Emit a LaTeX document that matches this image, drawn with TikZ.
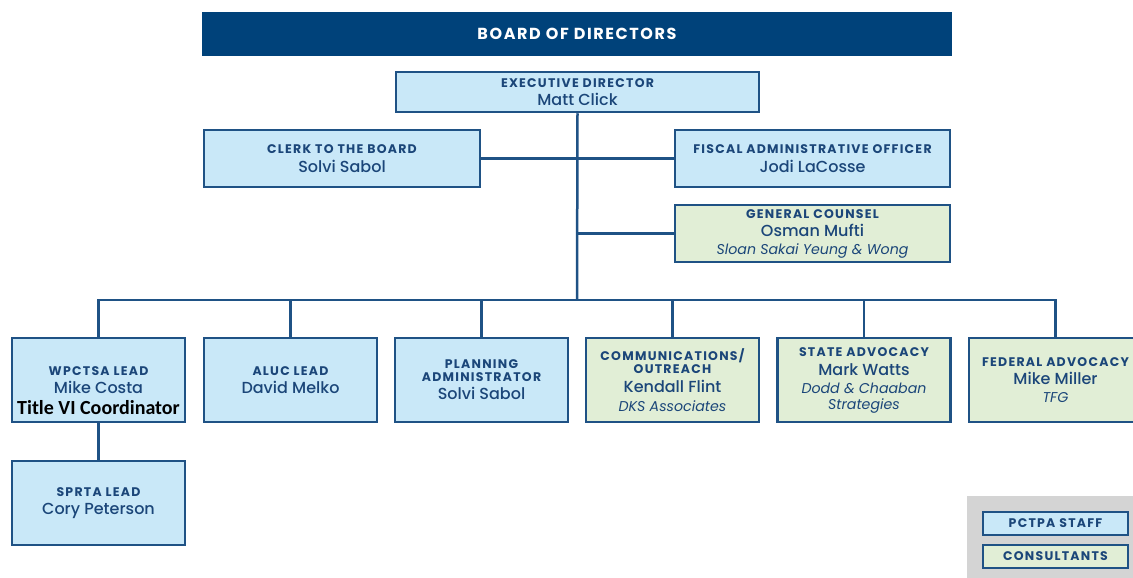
\documentclass[tikz,border=0pt]{standalone}
\usepackage{fontspec}
\setmainfont{Poppins}
\newfontfamily\midfont{Poppins}[UprightFont=* Medium,ItalicFont=* Italic]
\newfontfamily\calfont{Carlito}
\definecolor{navy}{HTML}{00427A}
\definecolor{boxline}{HTML}{1F5285}
\definecolor{staffbg}{HTML}{C9E8F8}
\definecolor{consbg}{HTML}{E1EED6}
\definecolor{legendbg}{HTML}{D4D4D4}
\definecolor{txt}{HTML}{1B4679}
\newcommand{\ttl}{\fontsize{12.5}{17}\selectfont\bfseries\addfontfeatures{LetterSpace=10}}
\newcommand{\nm}{\midfont\fontsize{16}{17}\selectfont}
\newcommand{\firm}{\fontsize{14.2}{17}\selectfont\itshape}
\tikzset{
  box/.style={draw=boxline,line width=2.5pt,align=center,text=txt,inner sep=0pt,
    font=\fontsize{13}{17}\selectfont},
  staffbox/.style={box,fill=staffbg},
  consbox/.style={box,fill=consbg},
  lowbox/.style={minimum width=173pt,minimum height=84pt},
  link/.style={draw=boxline,line width=2.5pt},
}
\begin{document}
\begin{tikzpicture}[x=1pt,y=-1pt]
\useasboundingbox (0,0) rectangle (1133,578);
\node[fill=navy,minimum width=750pt,minimum height=44pt,text=white,
  font=\fontsize{16}{17}\selectfont\bfseries\addfontfeatures{LetterSpace=10}]
  (board) at (577,34) {BOARD OF DIRECTORS};
% top of the staff
\node[staffbox,minimum width=363pt,minimum height=40pt] (exec) at (577.5,92)
  {\ttl EXECUTIVE DIRECTOR\\[1pt]\nm Matt Click};
\node[staffbox,minimum width=276pt,minimum height=57pt] (clerk) at (342,158.5)
  {\ttl CLERK TO THE BOARD\\[2pt]\nm Solvi Sabol};
\node[staffbox,minimum width=275pt,minimum height=57pt] (fiscal) at (812.5,158.5)
  {\ttl FISCAL ADMINISTRATIVE OFFICER\\[2pt]\nm Jodi LaCosse};
\node[consbox,minimum width=275pt,minimum height=57pt] (counsel) at (812.5,233.5)
  {\ttl GENERAL COUNSEL\\[1pt]\nm Osman Mufti\\[1pt]\firm Sloan Sakai Yeung \& Wong};
% second row
\node[staffbox,lowbox] (wpctsa) at (98.5,380)
  {\ttl WPCTSA LEAD\\[1pt]\nm Mike Costa};
\node[font=\calfont\fontsize{20}{22}\selectfont\bfseries] (titlevi) at (98.5,408) {Title VI Coordinator};
\node[staffbox,lowbox] (aluc) at (290.5,380)
  {\ttl ALUC LEAD\\[1pt]\nm David Melko};
\node[staffbox,lowbox] (plan) at (481.5,380)
  {\ttl PLANNING\\[-4pt]\ttl ADMINISTRATOR\\[1pt]\nm Solvi Sabol};
\node[consbox,lowbox] (comm) at (672.5,380)
  {\ttl COMMUNICATIONS/\\[-4pt]\ttl OUTREACH\\[2pt]\nm Kendall Flint\\[2pt]\firm DKS Associates};
\node[consbox,lowbox] (state) at (864,380)
  {\ttl STATE ADVOCACY\\[2pt]\nm Mark Watts\\[1pt]\firm Dodd \& Chaaban\\[-1pt]\firm Strategies};
\node[consbox,lowbox] (federal) at (1055.5,380)
  {\ttl FEDERAL ADVOCACY\\[1pt]\nm Mike Miller\\[1pt]\firm TFG};
\node[staffbox,lowbox] (sprta) at (98.5,503)
  {\ttl SPRTA LEAD\\[1pt]\nm Cory Peterson};
% legend
\fill[legendbg] (967,496) rectangle (1133,578);
\node[staffbox,line width=2pt,minimum width=145pt,minimum height=23pt] (leg1) at (1055.5,523.5) {\ttl PCTPA STAFF};
\node[consbox,line width=2pt,minimum width=145pt,minimum height=23pt] (leg2) at (1055.5,556.5) {\ttl CONSULTANTS};
% connectors
\coordinate (bar) at (577,300);
\draw[link] (exec.south) -- (bar);
\draw[link] (clerk.east) -- (fiscal.west);
\draw[link] (counsel.west) -- (exec.south |- counsel.west);
\foreach \n in {wpctsa,aluc,plan,comm,state,federal}
  \draw[link] (bar) -| (\n.north);
\draw[link] (wpctsa.south) -- (sprta.north);
\end{tikzpicture}
\end{document}
